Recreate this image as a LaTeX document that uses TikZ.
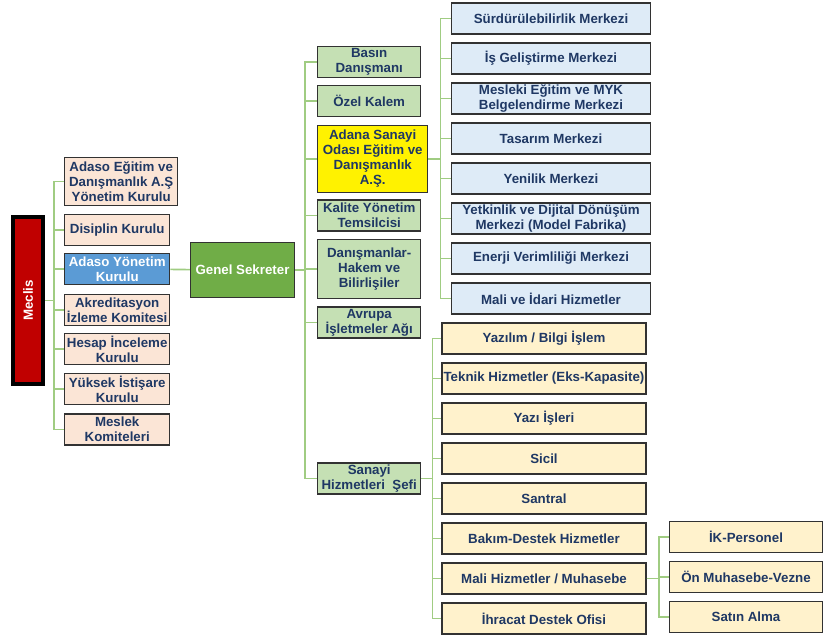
\documentclass[tikz,border=0pt]{standalone}
\usepackage{fontspec}
\setmainfont{Liberation Sans}
\usetikzlibrary{positioning}
\definecolor{meclisRed}{RGB}{192,0,0}
\definecolor{boardPeach}{RGB}{251,229,214}
\definecolor{chiefGreen}{RGB}{112,173,71}
\definecolor{officeGreen}{RGB}{197,224,180}
\definecolor{unitBlue}{RGB}{222,235,247}
\definecolor{serviceYellow}{RGB}{255,242,204}
\definecolor{adasoBlue}{RGB}{91,155,213}
\definecolor{textNavy}{RGB}{31,56,100}
\definecolor{lineGreen}{RGB}{160,204,130}
\definecolor{edgeGray}{RGB}{50,50,50}

\begin{document}
\begin{tikzpicture}[
    x=1pt, y=1pt,
    node distance=7.6pt,
    box/.style={rectangle, draw=edgeGray, line width=1.4pt, text=textNavy, align=center, inner sep=1pt, minimum height=31pt, font=\fontsize{13.3}{15}\selectfont\bfseries},
    council/.style={box, draw=black, line width=4pt, fill=meclisRed, text=white, minimum width=30pt, minimum height=167pt, inner sep=0pt},
    board/.style={box, fill=boardPeach, minimum width=105pt, anchor=west},
    chief/.style={box, fill=chiefGreen, text=white, minimum width=104pt, minimum height=55pt},
    office/.style={box, fill=officeGreen, minimum width=103pt, anchor=west},
    company/.style={box, fill=yellow, minimum width=110pt, minimum height=67pt, anchor=west},
    unit/.style={box, fill=unitBlue, minimum width=199pt},
    service/.style={box, fill=serviceYellow, minimum width=204pt},
    link/.style={draw=lineGreen, line width=1.6pt}
]
\useasboundingbox (0,0) rectangle (825,-635);

\node[council] (meclis) at (28,-300.5) {\rotatebox{90}{Meclis}};

% Left boards
\node[board, minimum width=113pt, minimum height=48pt] (egitimYK) at (64,-181.5) {Adaso Eğitim ve\\Danışmanlık A.Ş\\Yönetim Kurulu};
\node[board] (disiplin) at (64,-230) {Disiplin Kurulu};
\node[board, fill=adasoBlue, text=white] (adasoYK) at (64,-269) {Adaso Yönetim\\Kurulu};
\node[board] (akreditasyon) at (64,-310) {Akreditasyon\\İzleme Komitesi};
\node[board] (hesap) at (64,-349) {Hesap İnceleme\\Kurulu};
\node[board] (istisare) at (64,-389) {Yüksek İstişare\\Kurulu};
\node[board] (meslek) at (64,-429.5) {Meslek\\Komiteleri};

\node[chief] (genelSek) at (242.5,-270) {Genel Sekreter};

% Offices under Genel Sekreter
\node[office] (basin) at (317,-62) {Basın\\Danışmanı};
\node[office] (ozelKalem) at (317,-101) {Özel Kalem};
\node[company] (adanaAS) at (317,-159) {Adana Sanayi\\Odası Eğitim ve\\Danışmanlık\\A.Ş.};
\node[office] (kalite) at (317,-215.5) {Kalite Yönetim\\Temsilcisi};
\node[office, minimum height=59pt] (danisman) at (317,-269) {Danışmanlar-\\Hakem ve\\Bilirlişiler};
\node[office] (avrupa) at (317,-322.5) {Avrupa\\İşletmeler Ağı};
\node[office] (sanayiSef) at (317,-478.5) {Sanayi\\Hizmetleri\ \ Şefi};

% Centres
\node[unit] (surdur) at (551,-18.5) {Sürdürülebilirlik Merkezi};
\node[unit, below=of surdur] (isGelistirme) {İş Geliştirme Merkezi};
\node[unit, below=of isGelistirme] (myk) {Mesleki Eğitim ve MYK\\Belgelendirme Merkezi};
\node[unit, below=of myk] (tasarim) {Tasarım Merkezi};
\node[unit, below=of tasarim] (yenilik) {Yenilik Merkezi};
\node[unit, below=of yenilik] (modelFab) {Yetkinlik ve Dijital Dönüşüm\\Merkezi (Model Fabrika)};
\node[unit, below=of modelFab] (enerji) {Enerji Verimliliği Merkezi};
\node[unit, below=of enerji] (maliIdari) {Mali ve İdari Hizmetler};

% Services
\node[service] (yazilim) at (544,-338.5) {Yazılım / Bilgi İşlem};
\node[service, below=of yazilim] (teknik) {Teknik Hizmetler (Eks-Kapasite)};
\node[service, below=of teknik] (yaziIsleri) {Yazı İşleri};
\node[service, below=of yaziIsleri] (sicil) {Sicil};
\node[service, below=of sicil] (santral) {Santral};
\node[service, below=of santral] (bakim) {Bakım-Destek Hizmetler};
\node[service, below=of bakim] (muhasebe) {Mali Hizmetler / Muhasebe};
\node[service, below=of muhasebe] (ihracat) {İhracat Destek Ofisi};

\node[service, minimum width=153pt] (ikPersonel) at (746,-537) {İK-Personel};
\node[service, minimum width=153pt, below=of ikPersonel] (vezne) {Ön Muhasebe-Vezne};
\node[service, minimum width=153pt, below=of vezne] (satinAlma) {Satın Alma};

% Connectors
\foreach \b in {egitimYK, disiplin, adasoYK, akreditasyon, hesap, istisare, meslek}
    \draw[link] (meclis.east) -- ++(9,0) |- (\b.west);
\draw[link] (adasoYK) -- (genelSek);
\foreach \b in {basin, ozelKalem, adanaAS, kalite, danisman, avrupa, sanayiSef}
    \draw[link] (genelSek.east) -- ++(10,0) |- (\b.west);
\foreach \b in {surdur, isGelistirme, myk, tasarim, yenilik, modelFab, enerji, maliIdari}
    \draw[link] (adanaAS.east) -- ++(12,0) |- (\b.west);
\foreach \b in {yazilim, teknik, yaziIsleri, sicil, santral, bakim, muhasebe, ihracat}
    \draw[link] (sanayiSef.east) -- ++(11,0) |- (\b.west);
\foreach \b in {ikPersonel, vezne, satinAlma}
    \draw[link] (muhasebe.east) -- ++(12,0) |- (\b.west);

\end{tikzpicture}
\end{document}
